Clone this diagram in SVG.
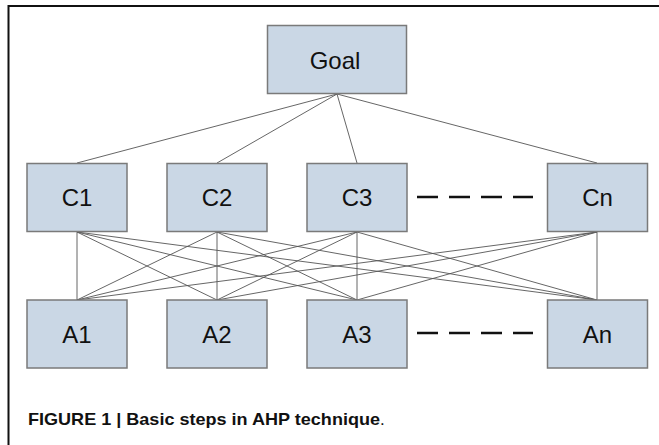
<svg xmlns="http://www.w3.org/2000/svg" width="659" height="445" viewBox="0 0 659 445">
<style>
.box{fill:#cad7e5;stroke:#7a7a7a;stroke-width:1.5}
.lbl{font-family:"Liberation Sans",Arial,sans-serif;font-size:24px;fill:#111;text-anchor:middle}
.ln{stroke:#555;stroke-width:0.9;fill:none}
.dash{stroke:#111;stroke-width:2.6;stroke-dasharray:21 11;fill:none}
.cap{font-family:"Liberation Sans",Arial,sans-serif;font-size:17px;fill:#111}
</style>
<rect width="659" height="445" fill="#fff"/>
<path d="M8.5 445 V6 H659" fill="none" stroke="#111" stroke-width="2"/>
<g id="connectors">
<line class="ln" x1="337" y1="94" x2="77" y2="163"/>
<line class="ln" x1="337" y1="94" x2="217" y2="163"/>
<line class="ln" x1="337" y1="94" x2="357" y2="163"/>
<line class="ln" x1="337" y1="94" x2="597" y2="163"/>
<line class="ln" x1="77" y1="232" x2="77" y2="300"/>
<line class="ln" x1="77" y1="232" x2="217" y2="300"/>
<line class="ln" x1="77" y1="232" x2="357" y2="300"/>
<line class="ln" x1="77" y1="232" x2="597" y2="300"/>
<line class="ln" x1="217" y1="232" x2="77" y2="300"/>
<line class="ln" x1="217" y1="232" x2="217" y2="300"/>
<line class="ln" x1="217" y1="232" x2="357" y2="300"/>
<line class="ln" x1="217" y1="232" x2="597" y2="300"/>
<line class="ln" x1="357" y1="232" x2="77" y2="300"/>
<line class="ln" x1="357" y1="232" x2="217" y2="300"/>
<line class="ln" x1="357" y1="232" x2="357" y2="300"/>
<line class="ln" x1="357" y1="232" x2="597" y2="300"/>
<line class="ln" x1="597" y1="232" x2="77" y2="300"/>
<line class="ln" x1="597" y1="232" x2="217" y2="300"/>
<line class="ln" x1="597" y1="232" x2="357" y2="300"/>
<line class="ln" x1="597" y1="232" x2="597" y2="300"/>
<line class="dash" x1="417" y1="197" x2="533" y2="197"/>
<line class="dash" x1="417" y1="333" x2="533" y2="333"/>
</g>
<g id="goal"><rect class="box" x="267.5" y="25.5" width="139" height="68"/><text class="lbl" x="335" y="69" font-size="26">Goal</text></g>
<g id="c1"><rect class="box" x="27" y="163.5" width="100" height="68"/><text class="lbl" x="77" y="206">C1</text></g>
<g id="c2"><rect class="box" x="167" y="163.5" width="100" height="68"/><text class="lbl" x="217" y="206">C2</text></g>
<g id="c3"><rect class="box" x="307" y="163.5" width="100" height="68"/><text class="lbl" x="357" y="206">C3</text></g>
<g id="cn"><rect class="box" x="547.5" y="163.5" width="100" height="68"/><text class="lbl" x="597.5" y="206">Cn</text></g>
<g id="a1"><rect class="box" x="27" y="300" width="100" height="68"/><text class="lbl" x="77" y="342.5">A1</text></g>
<g id="a2"><rect class="box" x="167" y="300" width="100" height="68"/><text class="lbl" x="217" y="342.5">A2</text></g>
<g id="a3"><rect class="box" x="307" y="300" width="100" height="68"/><text class="lbl" x="357" y="342.5">A3</text></g>
<g id="an"><rect class="box" x="547.5" y="300" width="100" height="68"/><text class="lbl" x="597.5" y="342.5">An</text></g>
<text class="cap" x="28" y="425"><tspan font-weight="bold" textLength="352" lengthAdjust="spacingAndGlyphs">FIGURE 1 | Basic steps in AHP technique</tspan><tspan>.</tspan></text>
</svg>
